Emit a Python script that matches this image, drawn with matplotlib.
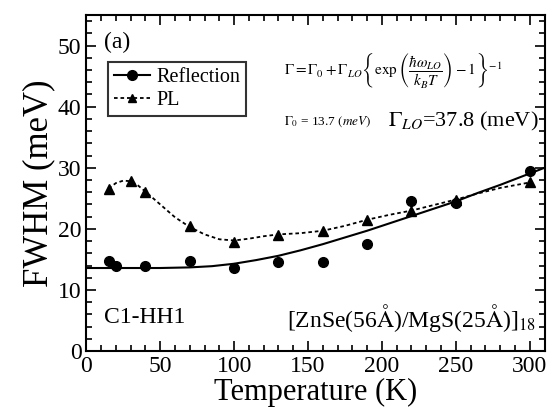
import matplotlib
matplotlib.use('Agg')
import matplotlib.pyplot as plt
from matplotlib.ticker import MultipleLocator

plt.rcParams['font.family'] = ['Liberation Serif', 'DejaVu Serif']
plt.rcParams['mathtext.fontset'] = 'stix'

# measured points
refl_t = [15, 20, 40, 70, 100, 130, 160, 190, 220, 250, 300]
refl_fwhm = [14.8, 13.9, 13.9, 14.7, 13.6, 14.6, 14.6, 17.6, 24.5, 24.3, 29.4]

pl_t = [15, 30, 40, 70, 100, 130, 160, 190, 220, 250, 300]
pl_fwhm = [26.6, 27.8, 26.1, 20.4, 17.8, 19.0, 19.6, 21.5, 23.0, 24.8, 27.6]

# fit line (solid)
fit_t = [0, 25, 50, 70, 85, 100, 115, 130, 145, 160, 175, 190, 205, 220, 235, 250, 265, 280, 295, 310]
fit_fwhm = [13.6, 13.6, 13.6, 13.7, 13.9, 14.3, 14.9, 15.6, 16.5, 17.5, 18.6, 19.7, 20.9, 22.1, 23.3, 24.5, 25.9, 27.2, 28.6, 30.0]

# PL guide line (dotted)
plc_t = [15, 20, 25, 30, 35, 40, 50, 60, 70, 80, 90, 100, 110, 120, 130, 145, 160, 175, 190, 205, 220, 235, 250, 265, 280, 300]
plc_fwhm = [26.6, 27.5, 27.9, 27.8, 27.1, 26.1, 24.0, 21.9, 20.3, 19.1, 18.3, 18.1, 18.4, 18.8, 19.1, 19.3, 19.7, 20.5, 21.5, 22.3, 23.0, 23.9, 24.8, 25.8, 26.7, 27.6]

fig = plt.figure(figsize=(5.5, 4.17), dpi=100)
ax = fig.add_axes([0.157, 0.158, 0.833, 0.806])

ax.plot(fit_t, fit_fwhm, '-', color='black', lw=1.5)
ax.plot(plc_t, plc_fwhm, color='black', lw=1.3, linestyle=(0, (2, 1.6)))
ax.plot(refl_t, refl_fwhm, 'o', color='black', ms=7)
ax.plot(pl_t, pl_fwhm, '^', color='black', ms=7)

# legend handles
ax.plot([], [], '-o', color='black', lw=1.5, ms=7, label='Reflection')
ax.plot([], [], '^', color='black', lw=1.3, linestyle=(0, (2, 1.6)), ms=6, label='PL')
handles, labels = ax.get_legend_handles_labels()
leg = ax.legend(handles[-2:], labels[-2:], loc='upper left', bbox_to_anchor=(0.025, 0.89),
                fontsize=14.5, frameon=True, fancybox=False, edgecolor='black',
                handlelength=1.8, handletextpad=0.3, borderpad=0.3, labelspacing=0.2)
leg.get_frame().set_linewidth(1.5)

ax.set_xlim(0, 310)
ax.set_ylim(0, 55)
ax.xaxis.set_major_locator(MultipleLocator(50))
ax.xaxis.set_minor_locator(MultipleLocator(10))
ax.yaxis.set_major_locator(MultipleLocator(10))
ax.yaxis.set_minor_locator(MultipleLocator(2))
ax.tick_params(which='both', direction='in', top=True, right=True, labelsize=17, width=1.2)
ax.tick_params(which='major', length=7)
ax.tick_params(which='minor', length=4)
for s in ax.spines.values():
    s.set_linewidth(1.5)

ax.set_xlabel('Temperature (K)', fontsize=22, labelpad=1)
ax.set_ylabel('FWHM (meV)', fontsize=25, labelpad=2)

ax.text(12, 50.5, '(a)', fontsize=17, va='center')
ax.text(12, 5.5, 'C1-HH1', fontsize=17, va='center')
ax.text(304, 5.5, r'[ZnSe(56$\mathrm{\AA}$)/MgS(25$\mathrm{\AA}$)]$_{18}$', fontsize=17, va='center', ha='right')

ax.text(134, 46.0, r'$\Gamma = \Gamma_0 + \Gamma_{LO}\left\{\exp\left(\dfrac{\hbar\omega_{LO}}{k_BT}\right)-1\right\}^{-1}$',
        fontsize=11, va='center')
ax.text(134, 37.6, r'$\Gamma_0$ = 13.7 $(meV)$', fontsize=9.5, va='center')
ax.text(306, 37.6, r'$\Gamma_{LO}$=37.8 (meV)', fontsize=16, va='center', ha='right')

fig.savefig('out.png', dpi=100)
